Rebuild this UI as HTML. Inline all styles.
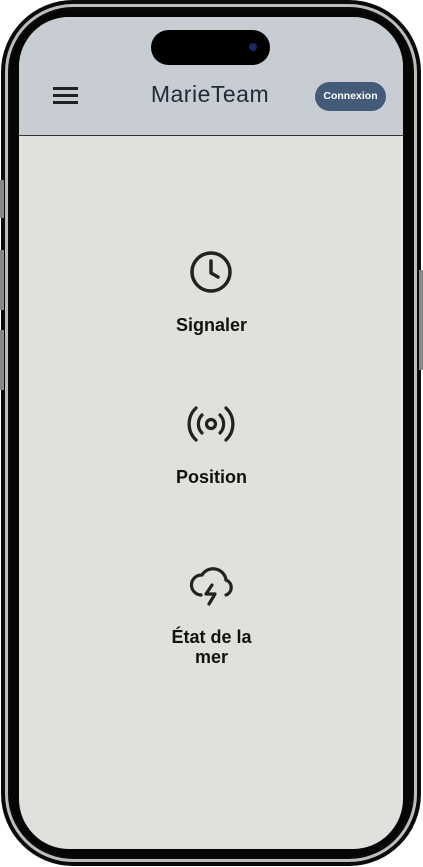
<!DOCTYPE html>
<html><head><meta charset="utf-8"><style>
body{margin:0;width:423px;height:867px;background:#fff;position:relative;overflow:hidden;font-family:"Liberation Sans",sans-serif}
.abs{position:absolute}
.lbl{position:absolute;left:0;width:423px;text-align:center;font-weight:bold;font-size:18px;color:#111;line-height:20px}
</style></head><body>
<div class="abs" style="left:1px;top:0;width:420px;height:866px;border-radius:72px;background:#0a0a0a"></div>
<div class="abs" style="left:5px;top:4px;width:406px;height:852px;border-radius:68px;border:3px solid #bdbdbd;box-sizing:content-box"></div>
<div class="abs" style="left:10px;top:9px;width:402px;height:848px;border-radius:64px;background:#050505"></div>
<div class="abs" style="left:0;top:180px;width:4px;height:38px;background:#888"></div>
<div class="abs" style="left:0;top:250px;width:4px;height:60px;background:#888"></div>
<div class="abs" style="left:0;top:330px;width:4px;height:60px;background:#888"></div>
<div class="abs" style="left:419px;top:270px;width:4px;height:100px;background:#888"></div>
<div class="abs" style="left:19px;top:17px;width:384px;height:832px;border-radius:50px;background:#e0e0dc;overflow:hidden">
  <div class="abs" style="left:0;top:0;width:384px;height:118px;background:#c8cdd4;border-bottom:1.5px solid #333"></div>
</div>
<div class="abs" style="left:151px;top:30px;width:119px;height:35px;border-radius:18px;background:#000"></div>
<div class="abs" style="left:249px;top:43px;width:8px;height:8px;border-radius:50%;background:#1a2a60"></div>
<div class="abs" style="left:53px;top:87px;width:25px;height:18px">
  <div class="abs" style="left:0;top:0;width:25px;height:2.5px;background:#222"></div>
  <div class="abs" style="left:0;top:7px;width:25px;height:2.5px;background:#222"></div>
  <div class="abs" style="left:0;top:14px;width:25px;height:2.5px;background:#222"></div>
</div>
<div class="abs" style="left:140px;top:81px;width:140px;text-align:center;font-size:23px;color:#222a38;letter-spacing:0.5px">MarieTeam</div>
<div class="abs" style="left:315px;top:82px;width:71px;height:29px;border-radius:15px;background:#435a78;color:#fff;font-size:10.5px;font-weight:bold;text-align:center;line-height:29px">Connexion</div>

<svg class="abs" style="left:189px;top:250px" width="44" height="44" viewBox="0 0 44 44"><circle cx="22" cy="22" r="19" fill="none" stroke="#222" stroke-width="3.5"/><path d="M22 11V23L29 27" fill="none" stroke="#222" stroke-width="3.5" stroke-linecap="round" stroke-linejoin="round"/></svg>
<div class="lbl" style="top:315px">Signaler</div>

<svg class="abs" style="left:187px;top:404px" width="48" height="40" viewBox="0 0 48 40"><circle cx="24" cy="20" r="4.5" fill="none" stroke="#222" stroke-width="3.2"/><path d="M15 11a13 13 0 0 0 0 18M33 11a13 13 0 0 1 0 18M9 4a22 22 0 0 0 0 32M39 4a22 22 0 0 1 0 32" fill="none" stroke="#222" stroke-width="3.2" stroke-linecap="round"/></svg>
<div class="lbl" style="top:467px">Position</div>

<svg class="abs" style="left:187px;top:563px" width="48" height="48" viewBox="0 0 48 48"><path d="M14 32a10 10 0 0 1 1-20a13 13 0 0 1 24 5a8 8 0 0 1 0 15" fill="none" stroke="#222" stroke-width="3.2" stroke-linecap="round"/><path d="M25 22l-6 9h9l-6 10" fill="none" stroke="#222" stroke-width="3.2" stroke-linecap="round" stroke-linejoin="round"/></svg>
<div class="lbl" style="top:627px">État de la<br>mer</div>
</body></html>
